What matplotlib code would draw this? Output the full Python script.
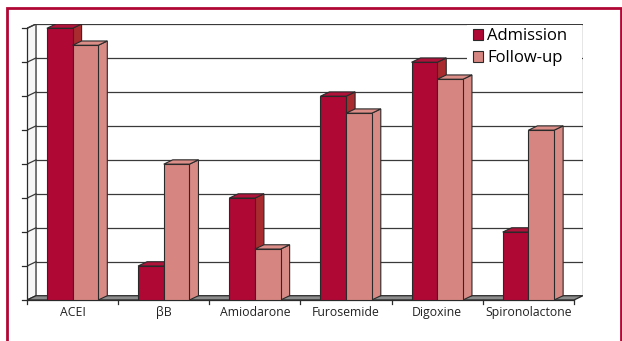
import matplotlib.pyplot as plt
from matplotlib.patches import Polygon, Rectangle

categories = ["ACEI", "\u03b2B", "Amiodarone", "Furosemide", "Digoxine", "Spironolactone"]
admission = [8.0, 1.0, 3.0, 6.0, 7.0, 2.0]
follow_up = [7.5, 4.0, 1.5, 5.5, 6.5, 5.0]
series_names = ["Admission", "Follow-up"]

ymax = 8
n = len(categories)

# 3d look: depth offset in data units
dx = 9 / 91
dy = 4.3 / 34
bar_w = 0.282

front_cols = ["#b00835", "#d68580"]
side_cols = ["#a92b30", "#d88a85"]
top_cols = ["#b0123a", "#db8d88"]
edge = "#2a2a2a"
W, H = 622, 341

fig = plt.figure(figsize=(6.22, 3.41), dpi=100)
ax = fig.add_axes([27 / W, 41 / H, 556 / W, 276 / H])
ax.set_xlim(0, n + dx)
ax.set_ylim(0, ymax + dy)
ax.axis("off")

# left wall
ax.add_patch(Polygon([(0, 0), (dx, dy), (dx, ymax + dy), (0, ymax)],
                     closed=True, fc="#f6f6f6", ec=edge, lw=0.9, zorder=1))
# back wall gridlines
for g in range(1, ymax + 1):
    ax.plot([dx, n + dx], [g + dy, g + dy], color="#3a3a3a", lw=0.9, zorder=1)
    ax.plot([0, dx], [g, g + dy], color="#3a3a3a", lw=0.9, zorder=1)
ax.plot([n + dx, n + dx], [dy, ymax + dy], color="#3a3a3a", lw=0.9, zorder=1)

# floor
ax.add_patch(Polygon([(0, 0), (n, 0), (n + dx, dy), (dx, dy)],
                     closed=True, fc="#8c8c8c", ec=edge, lw=0.9, zorder=2))

# left axis with ticks
ax.plot([0, 0], [0, ymax], color=edge, lw=0.9, zorder=3, clip_on=False)
for g in range(0, ymax + 1):
    ax.plot([-0.05, 0], [g, g], color=edge, lw=0.9, zorder=3, clip_on=False)
# bottom axis with category ticks
ax.plot([0, n], [0, 0], color=edge, lw=0.9, zorder=3, clip_on=False)
for k in range(n + 1):
    ax.plot([k, k], [0, -0.12], color=edge, lw=0.9, zorder=3, clip_on=False)

# bars
pad = (1 - 2 * bar_w) / 2
for i in range(n):
    for s, vals in enumerate([admission, follow_up]):
        x0 = i + pad + s * bar_w
        h = vals[i]
        z = 4 + i * 2 + s
        ax.add_patch(Polygon([(x0 + bar_w, 0), (x0 + bar_w + dx, dy),
                              (x0 + bar_w + dx, h + dy), (x0 + bar_w, h)],
                             closed=True, fc=side_cols[s], ec=edge, lw=0.8, zorder=z))
        ax.add_patch(Polygon([(x0, h), (x0 + dx, h + dy),
                              (x0 + bar_w + dx, h + dy), (x0 + bar_w, h)],
                             closed=True, fc=top_cols[s], ec=edge, lw=0.8, zorder=z))
        ax.add_patch(Rectangle((x0, 0), bar_w, h, fc=front_cols[s], ec=edge,
                               lw=0.8, zorder=z))
    ax.text(i + 0.5, -0.18, categories[i], ha="center", va="top",
            fontsize=8.8, color="#222222", family="Open Sans")

# legend: white patch behind, legend itself without frame
fig.patches.append(Rectangle((467 / W, 1 - 70 / H), (582 - 467) / W, (70 - 25) / H,
                             transform=fig.transFigure, fc="white", ec="none", zorder=20))
handles = [Rectangle((0, 0), 1, 1, fc=front_cols[k], ec=edge, lw=0.8) for k in range(2)]
leg = fig.legend(handles, series_names, loc="upper left",
                 bbox_to_anchor=(473 / W, 1 - 28 / H), frameon=False,
                 prop={"family": "Open Sans", "size": 12},
                 handlelength=0.62, handleheight=0.62, handletextpad=0.25,
                 labelspacing=0.36, borderpad=0, borderaxespad=0)
leg.set_zorder(30)

# crimson frame around the figure
fig.patches.append(Rectangle((7.5 / W, -0.05), (620.5 - 7.5) / W, (H - 7.5) / H + 0.05,
                             transform=fig.transFigure, fill=False,
                             ec="#b00835", lw=2, zorder=50))

fig.savefig("out.png", dpi=100)
